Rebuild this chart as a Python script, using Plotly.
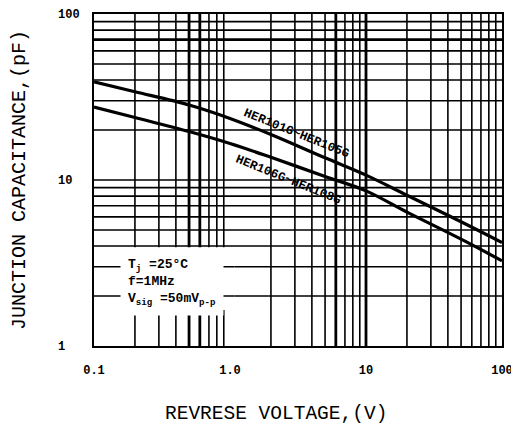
import plotly.graph_objects as go

# ---- data ----
voltage = [0.1, 0.2, 0.5, 1.0, 2.0, 5.0, 10.0, 20.0, 50.0, 100.0]
cap_her101_105 = [39.0, 34.0, 28.3, 23.5, 18.8, 13.6, 10.7, 8.1, 5.6, 4.2]
cap_her106_108 = [27.5, 23.8, 19.6, 16.6, 13.7, 10.5, 8.6, 6.4, 4.4, 3.26]

x_tick_vals = [0.1, 1, 10, 100]
x_tick_text = ["0.1", "1.0", "10", "100"]
y_tick_vals = [1, 10, 100]
y_tick_text = ["1\u00a0\u00a0", "10\u00a0", "100"]

x_grid_vals = [round(m * d, 3) for d in (0.1, 1, 10) for m in range(2, 10)]
y_grid_vals = [m * d for d in (1, 10) for m in range(2, 10)] + [10]
x_heavy_vals = [0.5, 0.6, 6, 10]
y_heavy_vals = [70]

label_upper = "HER101G~HER105G"
label_lower = "HER106G~HER108G"
cond_text = "T<sub>j</sub> =25°C<br>f=1MHz<br>V<sub>sig</sub> =50mV<sub>p-p</sub>"
x_title = "REVRESE VOLTAGE,(V)"
y_title = "JUNCTION CAPACITANCE,(pF)"

FONT = "Liberation Mono"
GRID_W = 1.6

fig = go.Figure()
fig.add_trace(go.Scatter(x=voltage, y=cap_her101_105, mode="lines",
                         line=dict(color="black", width=3.2, shape="spline"),
                         showlegend=False))
fig.add_trace(go.Scatter(x=voltage, y=cap_her106_108, mode="lines",
                         line=dict(color="black", width=3.2, shape="spline"),
                         showlegend=False))

shapes = []
# grid lines drawn explicitly in data coordinates
for v in y_grid_vals:
    shapes.append(dict(type="line", xref="x", yref="y", x0=0.1, x1=100, y0=v, y1=v,
                       line=dict(color="black", width=GRID_W), layer="above"))
for v in x_grid_vals:
    shapes.append(dict(type="line", xref="x", yref="y", x0=v, x1=v, y0=1, y1=100,
                       line=dict(color="black", width=GRID_W), layer="above"))
for v in x_heavy_vals:
    shapes.append(dict(type="line", xref="x", yref="y", x0=v, x1=v, y0=1, y1=100,
                       line=dict(color="black", width=2.8), layer="above"))
for v in y_heavy_vals:
    shapes.append(dict(type="line", xref="x", yref="y", x0=0.1, x1=100, y0=v, y1=v,
                       line=dict(color="black", width=2.8), layer="above"))
# white panel behind the test conditions
shapes.append(dict(type="rect", xref="x", yref="y", x0=0.1, x1=1.08, y0=1.65, y1=3.93,
                   fillcolor="white", line=dict(width=0), layer="above"))
for v in (2, 3):
    shapes.append(dict(type="line", xref="x", yref="y", x0=0.1, x1=1.08, y0=v, y1=v,
                       line=dict(color="black", width=GRID_W), layer="above"))

fig.update_layout(
    width=511, height=419,
    margin=dict(l=86, r=17, t=6, b=81),
    paper_bgcolor="white", plot_bgcolor="white",
    shapes=shapes,
    font=dict(family=FONT, color="black"),
    xaxis=dict(
        type="log", range=[-1, 2],
        tickmode="array", tickvals=x_tick_vals, ticktext=x_tick_text,
        tickfont=dict(family=FONT, size=12, weight="bold"),
        ticklabelstandoff=12,
        showgrid=False,
        showline=True, linecolor="black", linewidth=2, mirror=True,
        ticks="", zeroline=False,
        automargin=False,
    ),
    yaxis=dict(
        type="log", range=[0, 2],
        tickmode="array", tickvals=y_tick_vals, ticktext=y_tick_text,
        tickfont=dict(family=FONT, size=12, weight="bold"),
        ticklabelstandoff=10,
        showgrid=False,
        showline=True, linecolor="black", linewidth=2, mirror=True,
        ticks="", zeroline=False,
        title=dict(text=y_title, font=dict(family=FONT, size=20), standoff=30),
        automargin=False,
    ),
)

fig.add_annotation(xref="paper", yref="paper", x=0.446, y=-0.205, text=x_title,
                   showarrow=False, xanchor="center", yanchor="middle",
                   font=dict(family=FONT, size=19.5, color="black"))
fig.add_annotation(xref="paper", yref="paper", x=0.4975, y=0.6386, text=label_upper,
                   showarrow=False, textangle=22, xanchor="center", yanchor="middle",
                   font=dict(family=FONT, size=12.5, weight="bold", color="black"))
fig.add_annotation(xref="paper", yref="paper", x=0.4755, y=0.5, text=label_lower,
                   showarrow=False, textangle=22, xanchor="center", yanchor="middle",
                   font=dict(family=FONT, size=12.5, weight="bold", color="black"))
fig.add_annotation(xref="paper", yref="paper", x=0.19, y=0.19, text=cond_text,
                   showarrow=False, align="left", bgcolor="white", borderpad=7,
                   xanchor="center", yanchor="middle",
                   font=dict(family=FONT, size=13, weight="bold", color="black"))

fig.write_html("out.html")
